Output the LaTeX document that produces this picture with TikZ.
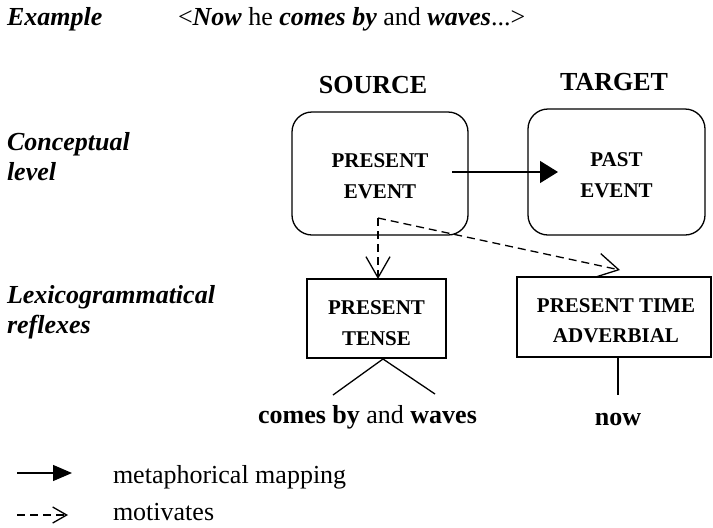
\documentclass[tikz,border=0pt]{standalone}
\usepackage{fontspec}
\setmainfont{Liberation Serif}
\usetikzlibrary{arrows.meta}
\begin{document}
\begin{tikzpicture}[x=1pt,y=-1pt,
  every node/.style={inner sep=0pt, outer sep=0pt},
  big/.style={font=\fontsize{26}{30}\selectfont},
  heading/.style={font=\fontsize{26}{30}\selectfont\bfseries},
  sidelabel/.style={font=\fontsize{26}{30}\selectfont\bfseries\itshape, align=left, anchor=north west},
  boxtext/.style={font=\fontsize{21}{30.5}\selectfont\bfseries, align=center},
  concept/.style={draw, line width=1.3pt, rounded corners=20pt, boxtext},
  lexbox/.style={draw, line width=1.3pt, boxtext},
  mapping/.style={line width=1.3pt, -{Triangle[length=18pt,width=22pt]}},
  motiv/.style={line width=1.3pt, dash pattern=on 8pt off 5pt, -{Straight Barb[length=21pt,width=24pt]}},
  plainline/.style={line width=1.3pt}
]
\useasboundingbox (0,0) rectangle (713,528);

% example sentence
\node[big, anchor=base west] (exlabel) at (7,25) {\textbf{\textit{Example}}};
\node[big, anchor=base west] (exsent) at (178,25)
  {<\textbf{\textit{Now}} he \textbf{\textit{comes by}} and \textbf{\textit{waves}}...>};

% row labels
\node[sidelabel] (conclab) at (7,132) {Conceptual\\level};
\node[sidelabel] (lexlab) at (7,285) {Lexicogrammatical\\reflexes};

% column headings
\node[heading, anchor=base] (source) at (373,93) {SOURCE};
\node[heading, anchor=base] (target) at (614,90) {TARGET};

% conceptual level (the struts push the two text lines down a little)
\node[concept, minimum width=176pt, minimum height=123pt] (present) at (380,173.5)
  {\rule{0pt}{19pt}PRESENT\\EVENT};
\node[concept, minimum width=177pt, minimum height=126pt] (past) at (616.5,172)
  {\rule{0pt}{20pt}PAST\\EVENT};

% lexicogrammatical reflexes
\node[lexbox, minimum width=139pt, minimum height=79pt] (tense) at (376.5,318.5)
  {\rule{0pt}{23pt}PRESENT\\TENSE};
\node[lexbox, minimum width=194pt, minimum height=80pt] (adv) at (614,317)
  {\rule{0pt}{21pt}\hspace{4pt}PRESENT TIME\\\hspace{4pt}ADVERBIAL};

% surface forms
\node[big, anchor=base] (verbs) at (367.5,423) {\textbf{comes by} and \textbf{waves}};
\node[big, anchor=base] (now) at (618,425) {\textbf{now}};

% metaphorical mapping
\coordinate (mapfrom) at (452,172);
\coordinate (mapto) at (558,172);
\draw[mapping] (mapfrom) -- (mapto);

% motivation links
\coordinate (split) at (378,218);
\coordinate (advtip) at (620,270);
\draw[motiv] (split) -- (split |- tense.north);
\draw[motiv] (split) -- (advtip);

% links to the surface forms
\coordinate (apex) at (383,359);
\coordinate (leftleg) at (333,395);
\coordinate (rightleg) at (435,394);
\draw[plainline] (leftleg) -- (apex) -- (rightleg);
\coordinate (advfoot) at (618,357);
\coordinate (nowtop) at (618,395);
\draw[plainline] (advfoot) -- (nowtop);

% legend
\coordinate (la1) at (17,473);
\coordinate (la2) at (72,473);
\draw[line width=1.3pt, -{Triangle[length=19pt,width=16pt]}] (la1) -- (la2);
\node[big, anchor=base west] (legmap) at (113,483) {metaphorical mapping};
\coordinate (lb1) at (17,515);
\coordinate (lb2) at (68,515);
\draw[line width=1.3pt, dash pattern=on 8pt off 5pt, -{Straight Barb[length=14pt,width=16pt]}] (lb1) -- (lb2);
\node[big, anchor=base west] (legmot) at (113,520) {motivates};
\end{tikzpicture}
\end{document}
